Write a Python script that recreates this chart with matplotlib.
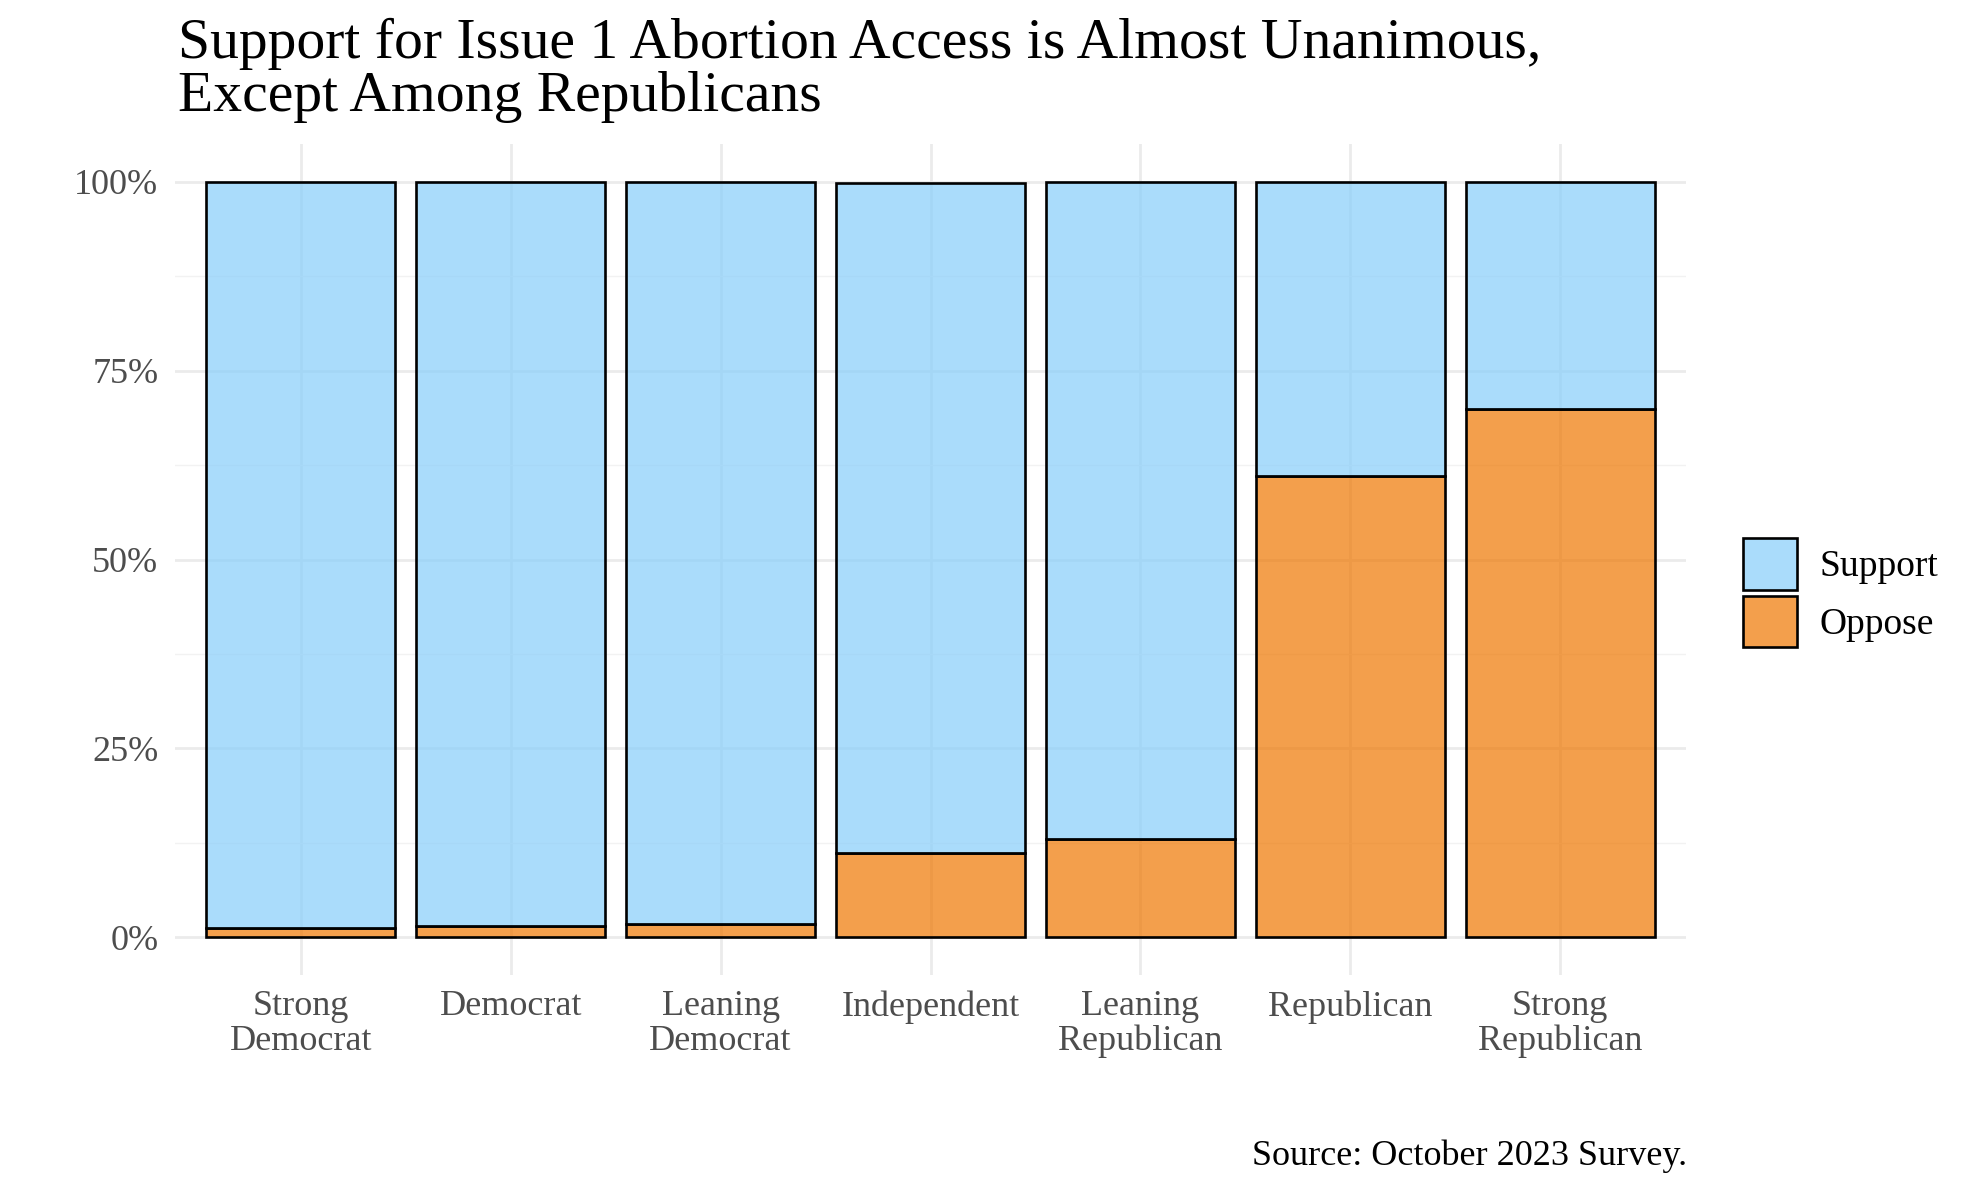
import numpy as np
import matplotlib.pyplot as plt
from matplotlib.colors import to_rgba
from matplotlib.patches import Patch

plt.rcParams['font.family'] = ['Liberation Serif', 'DejaVu Serif']

categories = ['Strong\nDemocrat', 'Democrat', 'Leaning\nDemocrat', 'Independent',
              'Leaning\nRepublican', 'Republican', 'Strong\nRepublican']
oppose = [1.3, 1.5, 1.7, 11.1, 13.0, 61.0, 69.9]
support = [98.7, 98.5, 98.3, 88.7, 87.0, 39.0, 30.1]
yticks = [0, 25, 50, 75, 100]
ytick_labels = ['0%', '25%', '50%', '75%', '100%']

support_col = to_rgba('lightskyblue', 0.7)
oppose_col = to_rgba('#EE7600', 0.7)
grid_col = '#EBEBEB'
text_col = '#4D4D4D'

fig = plt.figure(figsize=(19.82, 11.95), dpi=100)
ax = fig.add_axes([0.0883, 0.184, 0.7624, 0.6955])

x = np.arange(len(categories))
ax.bar(x, oppose, width=0.9, color=oppose_col, edgecolor='black', linewidth=1.9)
ax.bar(x, support, width=0.9, bottom=oppose, color=support_col, edgecolor='black', linewidth=1.9)

ax.set_xlim(-0.6, len(categories) - 0.4)
ax.set_ylim(-5, 105)
ax.set_xticks(x)
ax.set_xticklabels(categories, fontsize=26, color=text_col, linespacing=1.05)
ax.set_yticks(yticks)
ax.set_yticklabels(ytick_labels, fontsize=26, color=text_col)
ax.set_yticks([12.5, 37.5, 62.5, 87.5], minor=True)
ax.tick_params(axis='both', which='both', length=0)
ax.tick_params(axis='x', pad=11)
ax.tick_params(axis='y', pad=12)

# gridlines behind the bars
ax.set_axisbelow(True)
ax.grid(True, which='major', color=grid_col, linewidth=2.0)
ax.grid(True, which='minor', axis='y', color='#F2F2F2', linewidth=1.0)
for s in ax.spines.values():
    s.set_visible(False)

handles = [Patch(facecolor=support_col, edgecolor='black', linewidth=1.9, label='Support'),
           Patch(facecolor=oppose_col, edgecolor='black', linewidth=1.9, label='Oppose')]
fig.legend(handles=handles, loc='center left', bbox_to_anchor=(0.8794, 0.504),
           frameon=False, fontsize=27, borderpad=0, borderaxespad=0,
           handlelength=1.45, handleheight=1.75, labelspacing=0.15, handletextpad=0.6)

fig.text(0.0898, 1 - 18 / 1195, 'Support for Issue 1 Abortion Access is Almost Unanimous,\nExcept Among Republicans',
         fontsize=41.5, ha='left', va='top', linespacing=1.02, color='black')
fig.text(0.851, 1 - 1165 / 1195, 'Source: October 2023 Survey.', fontsize=26,
         ha='right', va='baseline', color='black')

plt.savefig('out.png', dpi=100)
